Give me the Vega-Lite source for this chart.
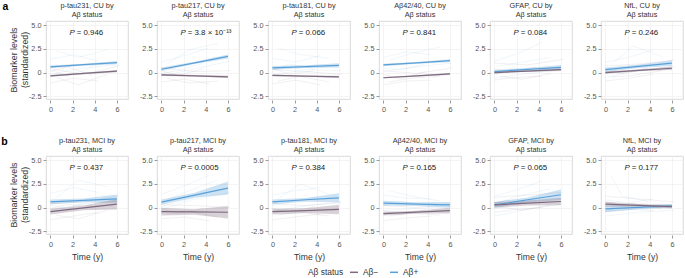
{
"$schema":"https://vega.github.io/schema/vega-lite/v6.json",
"padding":{"left":1,"top":1,"right":1,"bottom":1},
"config":{"font":"Liberation Sans","view":{"stroke":"#d0d0d0","strokeWidth":0.8},
"axis":{"domain":false,"gridColor":"#ececec","gridWidth":0.6,"tickColor":"#9a9a9a","tickSize":3,"labelFontSize":7.3,"labelColor":"#555555","labelPadding":2,"titleFontSize":8.6,"titleFontWeight":"normal","titleColor":"#333333","titlePadding":5},
"header":{"labelFontSize":7.3,"labelColor":"#333333","labelLineHeight":9},
"legend":{"labelFontSize":8.4,"titleFontSize":8.4,"titleFontWeight":"normal","labelColor":"#333333","titleColor":"#333333","padding":0}},
"datasets":{"d":[
{"k":"p","c":"CU","m":1,"pt":"= 0.946"},
{"k":"p","c":"CU","m":2,"pt":"= 3.8 × 10⁻¹³"},
{"k":"p","c":"CU","m":3,"pt":"= 0.066"},
{"k":"p","c":"CU","m":4,"pt":"= 0.841"},
{"k":"p","c":"CU","m":5,"pt":"= 0.084"},
{"k":"p","c":"CU","m":6,"pt":"= 0.246"},
{"k":"p","c":"MCI","m":1,"pt":"= 0.437"},
{"k":"p","c":"MCI","m":2,"pt":"= 0.0005"},
{"k":"p","c":"MCI","m":3,"pt":"= 0.384"},
{"k":"p","c":"MCI","m":4,"pt":"= 0.165"},
{"k":"p","c":"MCI","m":5,"pt":"= 0.065"},
{"k":"p","c":"MCI","m":6,"pt":"= 0.177"},
{"k":"f","c":"CU","m":1,"g":"Aβ+","t":0,"v":0.6,"lo":0.45,"hi":0.75},
{"k":"f","c":"CU","m":1,"g":"Aβ+","t":3,"v":0.83,"lo":0.73,"hi":0.93},
{"k":"f","c":"CU","m":1,"g":"Aβ+","t":6,"v":1.05,"lo":0.87,"hi":1.23},
{"k":"f","c":"CU","m":1,"g":"Aβ−","t":0,"v":-0.35,"lo":-0.45,"hi":-0.25},
{"k":"f","c":"CU","m":1,"g":"Aβ−","t":3,"v":-0.1,"lo":-0.17,"hi":-0.03},
{"k":"f","c":"CU","m":1,"g":"Aβ−","t":6,"v":0.15,"lo":0.03,"hi":0.27},
{"k":"f","c":"CU","m":2,"g":"Aβ+","t":0,"v":0.35,"lo":0.17,"hi":0.53},
{"k":"f","c":"CU","m":2,"g":"Aβ+","t":3,"v":1.03,"lo":0.91,"hi":1.15},
{"k":"f","c":"CU","m":2,"g":"Aβ+","t":6,"v":1.7,"lo":1.48,"hi":1.92},
{"k":"f","c":"CU","m":2,"g":"Aβ−","t":0,"v":-0.25,"lo":-0.37,"hi":-0.13},
{"k":"f","c":"CU","m":2,"g":"Aβ−","t":3,"v":-0.35,"lo":-0.43,"hi":-0.27},
{"k":"f","c":"CU","m":2,"g":"Aβ−","t":6,"v":-0.45,"lo":-0.59,"hi":-0.31},
{"k":"f","c":"CU","m":3,"g":"Aβ+","t":0,"v":0.5,"lo":0.3,"hi":0.7},
{"k":"f","c":"CU","m":3,"g":"Aβ+","t":3,"v":0.63,"lo":0.49,"hi":0.77},
{"k":"f","c":"CU","m":3,"g":"Aβ+","t":6,"v":0.75,"lo":0.53,"hi":0.97},
{"k":"f","c":"CU","m":3,"g":"Aβ−","t":0,"v":-0.3,"lo":-0.4,"hi":-0.2},
{"k":"f","c":"CU","m":3,"g":"Aβ−","t":3,"v":-0.38,"lo":-0.45,"hi":-0.31},
{"k":"f","c":"CU","m":3,"g":"Aβ−","t":6,"v":-0.45,"lo":-0.57,"hi":-0.33},
{"k":"f","c":"CU","m":4,"g":"Aβ+","t":0,"v":0.8,"lo":0.67,"hi":0.93},
{"k":"f","c":"CU","m":4,"g":"Aβ+","t":3,"v":1.03,"lo":0.94,"hi":1.12},
{"k":"f","c":"CU","m":4,"g":"Aβ+","t":6,"v":1.25,"lo":1.1,"hi":1.4},
{"k":"f","c":"CU","m":4,"g":"Aβ−","t":0,"v":-0.55,"lo":-0.64,"hi":-0.46},
{"k":"f","c":"CU","m":4,"g":"Aβ−","t":3,"v":-0.35,"lo":-0.41,"hi":-0.29},
{"k":"f","c":"CU","m":4,"g":"Aβ−","t":6,"v":-0.15,"lo":-0.25,"hi":-0.05},
{"k":"f","c":"CU","m":5,"g":"Aβ+","t":0,"v":0.1,"lo":-0.1,"hi":0.3},
{"k":"f","c":"CU","m":5,"g":"Aβ+","t":3,"v":0.33,"lo":0.19,"hi":0.47},
{"k":"f","c":"CU","m":5,"g":"Aβ+","t":6,"v":0.55,"lo":0.3,"hi":0.8},
{"k":"f","c":"CU","m":5,"g":"Aβ−","t":0,"v":0.0,"lo":-0.1,"hi":0.1},
{"k":"f","c":"CU","m":5,"g":"Aβ−","t":3,"v":0.15,"lo":0.07,"hi":0.23},
{"k":"f","c":"CU","m":5,"g":"Aβ−","t":6,"v":0.3,"lo":0.16,"hi":0.44},
{"k":"f","c":"CU","m":6,"g":"Aβ+","t":0,"v":0.3,"lo":0.08,"hi":0.52},
{"k":"f","c":"CU","m":6,"g":"Aβ+","t":3,"v":0.65,"lo":0.49,"hi":0.81},
{"k":"f","c":"CU","m":6,"g":"Aβ+","t":6,"v":1.0,"lo":0.7,"hi":1.3},
{"k":"f","c":"CU","m":6,"g":"Aβ−","t":0,"v":0.0,"lo":-0.14,"hi":0.14},
{"k":"f","c":"CU","m":6,"g":"Aβ−","t":3,"v":0.23,"lo":0.13,"hi":0.33},
{"k":"f","c":"CU","m":6,"g":"Aβ−","t":6,"v":0.45,"lo":0.27,"hi":0.63},
{"k":"f","c":"MCI","m":1,"g":"Aβ+","t":0,"v":0.6,"lo":0.35,"hi":0.85},
{"k":"f","c":"MCI","m":1,"g":"Aβ+","t":3,"v":0.76,"lo":0.56,"hi":0.96},
{"k":"f","c":"MCI","m":1,"g":"Aβ+","t":6,"v":0.92,"lo":0.47,"hi":1.37},
{"k":"f","c":"MCI","m":1,"g":"Aβ−","t":0,"v":-0.43,"lo":-0.73,"hi":-0.13},
{"k":"f","c":"MCI","m":1,"g":"Aβ−","t":3,"v":-0.04,"lo":-0.29,"hi":0.21},
{"k":"f","c":"MCI","m":1,"g":"Aβ−","t":6,"v":0.35,"lo":-0.2,"hi":0.9},
{"k":"f","c":"MCI","m":2,"g":"Aβ+","t":0,"v":0.57,"lo":0.3,"hi":0.84},
{"k":"f","c":"MCI","m":2,"g":"Aβ+","t":3,"v":1.32,"lo":1.07,"hi":1.57},
{"k":"f","c":"MCI","m":2,"g":"Aβ+","t":6,"v":2.06,"lo":1.36,"hi":2.76},
{"k":"f","c":"MCI","m":2,"g":"Aβ−","t":0,"v":-0.43,"lo":-0.83,"hi":-0.03},
{"k":"f","c":"MCI","m":2,"g":"Aβ−","t":3,"v":-0.47,"lo":-0.77,"hi":-0.17},
{"k":"f","c":"MCI","m":2,"g":"Aβ−","t":6,"v":-0.5,"lo":-1.15,"hi":0.15},
{"k":"f","c":"MCI","m":3,"g":"Aβ+","t":0,"v":0.6,"lo":0.35,"hi":0.85},
{"k":"f","c":"MCI","m":3,"g":"Aβ+","t":3,"v":0.82,"lo":0.62,"hi":1.02},
{"k":"f","c":"MCI","m":3,"g":"Aβ+","t":6,"v":1.03,"lo":0.55,"hi":1.51},
{"k":"f","c":"MCI","m":3,"g":"Aβ−","t":0,"v":-0.43,"lo":-0.73,"hi":-0.13},
{"k":"f","c":"MCI","m":3,"g":"Aβ−","t":3,"v":-0.32,"lo":-0.57,"hi":-0.07},
{"k":"f","c":"MCI","m":3,"g":"Aβ−","t":6,"v":-0.2,"lo":-0.7,"hi":0.3},
{"k":"f","c":"MCI","m":4,"g":"Aβ+","t":0,"v":0.46,"lo":0.21,"hi":0.71},
{"k":"f","c":"MCI","m":4,"g":"Aβ+","t":3,"v":0.37,"lo":0.17,"hi":0.57},
{"k":"f","c":"MCI","m":4,"g":"Aβ+","t":6,"v":0.28,"lo":-0.02,"hi":0.58},
{"k":"f","c":"MCI","m":4,"g":"Aβ−","t":0,"v":-0.64,"lo":-0.84,"hi":-0.44},
{"k":"f","c":"MCI","m":4,"g":"Aβ−","t":3,"v":-0.48,"lo":-0.63,"hi":-0.33},
{"k":"f","c":"MCI","m":4,"g":"Aβ−","t":6,"v":-0.32,"lo":-0.62,"hi":-0.02},
{"k":"f","c":"MCI","m":5,"g":"Aβ+","t":0,"v":0.28,"lo":-0.02,"hi":0.58},
{"k":"f","c":"MCI","m":5,"g":"Aβ+","t":3,"v":0.82,"lo":0.57,"hi":1.07},
{"k":"f","c":"MCI","m":5,"g":"Aβ+","t":6,"v":1.35,"lo":0.8,"hi":1.9},
{"k":"f","c":"MCI","m":5,"g":"Aβ−","t":0,"v":0.28,"lo":-0.02,"hi":0.58},
{"k":"f","c":"MCI","m":5,"g":"Aβ−","t":3,"v":0.46,"lo":0.21,"hi":0.71},
{"k":"f","c":"MCI","m":5,"g":"Aβ−","t":6,"v":0.64,"lo":0.24,"hi":1.04},
{"k":"f","c":"MCI","m":6,"g":"Aβ+","t":0,"v":-0.14,"lo":-0.49,"hi":0.21},
{"k":"f","c":"MCI","m":6,"g":"Aβ+","t":3,"v":0.02,"lo":-0.18,"hi":0.22},
{"k":"f","c":"MCI","m":6,"g":"Aβ+","t":6,"v":0.18,"lo":-0.02,"hi":0.38},
{"k":"f","c":"MCI","m":6,"g":"Aβ−","t":0,"v":0.35,"lo":0.1,"hi":0.6},
{"k":"f","c":"MCI","m":6,"g":"Aβ−","t":3,"v":0.23,"lo":0.08,"hi":0.38},
{"k":"f","c":"MCI","m":6,"g":"Aβ−","t":6,"v":0.1,"lo":-0.1,"hi":0.3},
{"k":"s","c":"CU","m":1,"g":"Aβ+","i":11,"t":0,"v":1.4},{"k":"s","c":"CU","m":1,"g":"Aβ+","i":11,"t":2.1,"v":1.9},{"k":"s","c":"CU","m":1,"g":"Aβ+","i":11,"t":4.3,"v":1.2},
{"k":"s","c":"CU","m":1,"g":"Aβ+","i":12,"t":0,"v":-0.2},{"k":"s","c":"CU","m":1,"g":"Aβ+","i":12,"t":3,"v":0.5},{"k":"s","c":"CU","m":1,"g":"Aβ+","i":12,"t":6.2,"v":0.8},
{"k":"s","c":"CU","m":1,"g":"Aβ+","i":13,"t":0.5,"v":2.3},{"k":"s","c":"CU","m":1,"g":"Aβ+","i":13,"t":2.5,"v":1.6},{"k":"s","c":"CU","m":1,"g":"Aβ+","i":13,"t":5.1,"v":2.4},
{"k":"s","c":"CU","m":1,"g":"Aβ+","i":14,"t":0,"v":0.3},{"k":"s","c":"CU","m":1,"g":"Aβ+","i":14,"t":1.5,"v":-0.4},{"k":"s","c":"CU","m":1,"g":"Aβ+","i":14,"t":3.8,"v":0.6},
{"k":"s","c":"CU","m":1,"g":"Aβ−","i":15,"t":0,"v":-1.1},{"k":"s","c":"CU","m":1,"g":"Aβ−","i":15,"t":2.1,"v":-0.6},{"k":"s","c":"CU","m":1,"g":"Aβ−","i":15,"t":4.3,"v":-0.9},
{"k":"s","c":"CU","m":1,"g":"Aβ−","i":16,"t":0,"v":0.4},{"k":"s","c":"CU","m":1,"g":"Aβ−","i":16,"t":3,"v":-0.2},{"k":"s","c":"CU","m":1,"g":"Aβ−","i":16,"t":6.2,"v":0.7},
{"k":"s","c":"CU","m":1,"g":"Aβ−","i":17,"t":0.5,"v":-0.5},{"k":"s","c":"CU","m":1,"g":"Aβ−","i":17,"t":2.5,"v":-1.3},{"k":"s","c":"CU","m":1,"g":"Aβ−","i":17,"t":5.1,"v":-0.2},
{"k":"s","c":"CU","m":1,"g":"Aβ−","i":18,"t":0,"v":0.1},{"k":"s","c":"CU","m":1,"g":"Aβ−","i":18,"t":1.5,"v":0.6},{"k":"s","c":"CU","m":1,"g":"Aβ−","i":18,"t":3.8,"v":-0.3},
{"k":"s","c":"CU","m":2,"g":"Aβ+","i":21,"t":0,"v":1.1},{"k":"s","c":"CU","m":2,"g":"Aβ+","i":21,"t":2.1,"v":1.8},{"k":"s","c":"CU","m":2,"g":"Aβ+","i":21,"t":4.3,"v":2.6},
{"k":"s","c":"CU","m":2,"g":"Aβ+","i":22,"t":0,"v":-0.4},{"k":"s","c":"CU","m":2,"g":"Aβ+","i":22,"t":3,"v":0.4},{"k":"s","c":"CU","m":2,"g":"Aβ+","i":22,"t":6.2,"v":1.2},
{"k":"s","c":"CU","m":2,"g":"Aβ+","i":23,"t":0.5,"v":0.9},{"k":"s","c":"CU","m":2,"g":"Aβ+","i":23,"t":2.5,"v":2.4},{"k":"s","c":"CU","m":2,"g":"Aβ+","i":23,"t":5.1,"v":3.1},
{"k":"s","c":"CU","m":2,"g":"Aβ+","i":24,"t":0,"v":-0.1},{"k":"s","c":"CU","m":2,"g":"Aβ+","i":24,"t":1.5,"v":0.2},{"k":"s","c":"CU","m":2,"g":"Aβ+","i":24,"t":3.8,"v":1.0},
{"k":"s","c":"CU","m":2,"g":"Aβ−","i":25,"t":0,"v":-1.0},{"k":"s","c":"CU","m":2,"g":"Aβ−","i":25,"t":2.1,"v":-0.7},{"k":"s","c":"CU","m":2,"g":"Aβ−","i":25,"t":4.3,"v":-1.2},
{"k":"s","c":"CU","m":2,"g":"Aβ−","i":26,"t":0,"v":0.5},{"k":"s","c":"CU","m":2,"g":"Aβ−","i":26,"t":3,"v":0.1},{"k":"s","c":"CU","m":2,"g":"Aβ−","i":26,"t":6.2,"v":0.2},
{"k":"s","c":"CU","m":2,"g":"Aβ−","i":27,"t":0.5,"v":-0.6},{"k":"s","c":"CU","m":2,"g":"Aβ−","i":27,"t":2.5,"v":-1.1},{"k":"s","c":"CU","m":2,"g":"Aβ−","i":27,"t":5.1,"v":-0.9},
{"k":"s","c":"CU","m":2,"g":"Aβ−","i":28,"t":0,"v":0.2},{"k":"s","c":"CU","m":2,"g":"Aβ−","i":28,"t":1.5,"v":-0.3},{"k":"s","c":"CU","m":2,"g":"Aβ−","i":28,"t":3.8,"v":0.4},
{"k":"s","c":"CU","m":3,"g":"Aβ+","i":31,"t":0,"v":1.5},{"k":"s","c":"CU","m":3,"g":"Aβ+","i":31,"t":2.1,"v":1.1},{"k":"s","c":"CU","m":3,"g":"Aβ+","i":31,"t":4.3,"v":1.8},
{"k":"s","c":"CU","m":3,"g":"Aβ+","i":32,"t":0,"v":-0.3},{"k":"s","c":"CU","m":3,"g":"Aβ+","i":32,"t":3,"v":0.3},{"k":"s","c":"CU","m":3,"g":"Aβ+","i":32,"t":6.2,"v":0.2},
{"k":"s","c":"CU","m":3,"g":"Aβ+","i":33,"t":0.5,"v":2.6},{"k":"s","c":"CU","m":3,"g":"Aβ+","i":33,"t":2.5,"v":1.9},{"k":"s","c":"CU","m":3,"g":"Aβ+","i":33,"t":5.1,"v":1.5},
{"k":"s","c":"CU","m":3,"g":"Aβ+","i":34,"t":0,"v":0.2},{"k":"s","c":"CU","m":3,"g":"Aβ+","i":34,"t":1.5,"v":0.9},{"k":"s","c":"CU","m":3,"g":"Aβ+","i":34,"t":3.8,"v":0.4},
{"k":"s","c":"CU","m":3,"g":"Aβ−","i":35,"t":0,"v":-1.2},{"k":"s","c":"CU","m":3,"g":"Aβ−","i":35,"t":2.1,"v":-0.8},{"k":"s","c":"CU","m":3,"g":"Aβ−","i":35,"t":4.3,"v":-1.3},
{"k":"s","c":"CU","m":3,"g":"Aβ−","i":36,"t":0,"v":0.3},{"k":"s","c":"CU","m":3,"g":"Aβ−","i":36,"t":3,"v":0.1},{"k":"s","c":"CU","m":3,"g":"Aβ−","i":36,"t":6.2,"v":-0.2},
{"k":"s","c":"CU","m":3,"g":"Aβ−","i":37,"t":0.5,"v":-0.9},{"k":"s","c":"CU","m":3,"g":"Aβ−","i":37,"t":2.5,"v":-0.4},{"k":"s","c":"CU","m":3,"g":"Aβ−","i":37,"t":5.1,"v":-1.0},
{"k":"s","c":"CU","m":3,"g":"Aβ−","i":38,"t":0,"v":0.5},{"k":"s","c":"CU","m":3,"g":"Aβ−","i":38,"t":1.5,"v":-0.2},{"k":"s","c":"CU","m":3,"g":"Aβ−","i":38,"t":3.8,"v":0.2},
{"k":"s","c":"CU","m":4,"g":"Aβ+","i":41,"t":0,"v":1.6},{"k":"s","c":"CU","m":4,"g":"Aβ+","i":41,"t":2.1,"v":2.2},{"k":"s","c":"CU","m":4,"g":"Aβ+","i":41,"t":4.3,"v":1.9},
{"k":"s","c":"CU","m":4,"g":"Aβ+","i":42,"t":0,"v":0.1},{"k":"s","c":"CU","m":4,"g":"Aβ+","i":42,"t":3,"v":0.6},{"k":"s","c":"CU","m":4,"g":"Aβ+","i":42,"t":6.2,"v":1.0},
{"k":"s","c":"CU","m":4,"g":"Aβ+","i":43,"t":0.5,"v":1.3},{"k":"s","c":"CU","m":4,"g":"Aβ+","i":43,"t":2.5,"v":2.0},{"k":"s","c":"CU","m":4,"g":"Aβ+","i":43,"t":5.1,"v":2.7},
{"k":"s","c":"CU","m":4,"g":"Aβ+","i":44,"t":0,"v":0.5},{"k":"s","c":"CU","m":4,"g":"Aβ+","i":44,"t":1.5,"v":0.3},{"k":"s","c":"CU","m":4,"g":"Aβ+","i":44,"t":3.8,"v":0.9},
{"k":"s","c":"CU","m":4,"g":"Aβ−","i":45,"t":0,"v":-1.3},{"k":"s","c":"CU","m":4,"g":"Aβ−","i":45,"t":2.1,"v":-0.9},{"k":"s","c":"CU","m":4,"g":"Aβ−","i":45,"t":4.3,"v":-0.8},
{"k":"s","c":"CU","m":4,"g":"Aβ−","i":46,"t":0,"v":0.2},{"k":"s","c":"CU","m":4,"g":"Aβ−","i":46,"t":3,"v":-0.1},{"k":"s","c":"CU","m":4,"g":"Aβ−","i":46,"t":6.2,"v":0.5},
{"k":"s","c":"CU","m":4,"g":"Aβ−","i":47,"t":0.5,"v":-1.0},{"k":"s","c":"CU","m":4,"g":"Aβ−","i":47,"t":2.5,"v":-0.6},{"k":"s","c":"CU","m":4,"g":"Aβ−","i":47,"t":5.1,"v":-0.4},
{"k":"s","c":"CU","m":4,"g":"Aβ−","i":48,"t":0,"v":-0.2},{"k":"s","c":"CU","m":4,"g":"Aβ−","i":48,"t":1.5,"v":-0.7},{"k":"s","c":"CU","m":4,"g":"Aβ−","i":48,"t":3.8,"v":0.1},
{"k":"s","c":"CU","m":5,"g":"Aβ+","i":51,"t":0,"v":1.2},{"k":"s","c":"CU","m":5,"g":"Aβ+","i":51,"t":2.1,"v":2.0},{"k":"s","c":"CU","m":5,"g":"Aβ+","i":51,"t":4.3,"v":3.2},
{"k":"s","c":"CU","m":5,"g":"Aβ+","i":52,"t":0,"v":-0.6},{"k":"s","c":"CU","m":5,"g":"Aβ+","i":52,"t":3,"v":-0.1},{"k":"s","c":"CU","m":5,"g":"Aβ+","i":52,"t":6.2,"v":0.3},
{"k":"s","c":"CU","m":5,"g":"Aβ+","i":53,"t":0.5,"v":0.7},{"k":"s","c":"CU","m":5,"g":"Aβ+","i":53,"t":2.5,"v":1.1},{"k":"s","c":"CU","m":5,"g":"Aβ+","i":53,"t":5.1,"v":1.6},
{"k":"s","c":"CU","m":5,"g":"Aβ+","i":54,"t":0,"v":-0.3},{"k":"s","c":"CU","m":5,"g":"Aβ+","i":54,"t":1.5,"v":0.4},{"k":"s","c":"CU","m":5,"g":"Aβ+","i":54,"t":3.8,"v":0.1},
{"k":"s","c":"CU","m":5,"g":"Aβ−","i":55,"t":0,"v":-0.8},{"k":"s","c":"CU","m":5,"g":"Aβ−","i":55,"t":2.1,"v":-0.5},{"k":"s","c":"CU","m":5,"g":"Aβ−","i":55,"t":4.3,"v":-0.4},
{"k":"s","c":"CU","m":5,"g":"Aβ−","i":56,"t":0,"v":1.0},{"k":"s","c":"CU","m":5,"g":"Aβ−","i":56,"t":3,"v":0.8},{"k":"s","c":"CU","m":5,"g":"Aβ−","i":56,"t":6.2,"v":1.4},
{"k":"s","c":"CU","m":5,"g":"Aβ−","i":57,"t":0.5,"v":-0.4},{"k":"s","c":"CU","m":5,"g":"Aβ−","i":57,"t":2.5,"v":-0.7},{"k":"s","c":"CU","m":5,"g":"Aβ−","i":57,"t":5.1,"v":-0.1},
{"k":"s","c":"CU","m":5,"g":"Aβ−","i":58,"t":0,"v":0.3},{"k":"s","c":"CU","m":5,"g":"Aβ−","i":58,"t":1.5,"v":0.1},{"k":"s","c":"CU","m":5,"g":"Aβ−","i":58,"t":3.8,"v":0.6},
{"k":"s","c":"CU","m":6,"g":"Aβ+","i":61,"t":0,"v":1.1},{"k":"s","c":"CU","m":6,"g":"Aβ+","i":61,"t":2.1,"v":1.6},{"k":"s","c":"CU","m":6,"g":"Aβ+","i":61,"t":4.3,"v":2.4},
{"k":"s","c":"CU","m":6,"g":"Aβ+","i":62,"t":0,"v":-0.5},{"k":"s","c":"CU","m":6,"g":"Aβ+","i":62,"t":3,"v":0.2},{"k":"s","c":"CU","m":6,"g":"Aβ+","i":62,"t":6.2,"v":0.6},
{"k":"s","c":"CU","m":6,"g":"Aβ+","i":63,"t":0.5,"v":0.8},{"k":"s","c":"CU","m":6,"g":"Aβ+","i":63,"t":2.5,"v":2.8},{"k":"s","c":"CU","m":6,"g":"Aβ+","i":63,"t":5.1,"v":1.7},
{"k":"s","c":"CU","m":6,"g":"Aβ+","i":64,"t":0,"v":-0.1},{"k":"s","c":"CU","m":6,"g":"Aβ+","i":64,"t":1.5,"v":0.5},{"k":"s","c":"CU","m":6,"g":"Aβ+","i":64,"t":3.8,"v":0.9},
{"k":"s","c":"CU","m":6,"g":"Aβ−","i":65,"t":0,"v":-0.9},{"k":"s","c":"CU","m":6,"g":"Aβ−","i":65,"t":2.1,"v":-0.6},{"k":"s","c":"CU","m":6,"g":"Aβ−","i":65,"t":4.3,"v":-0.2},
{"k":"s","c":"CU","m":6,"g":"Aβ−","i":66,"t":0,"v":0.7},{"k":"s","c":"CU","m":6,"g":"Aβ−","i":66,"t":3,"v":0.9},{"k":"s","c":"CU","m":6,"g":"Aβ−","i":66,"t":6.2,"v":1.3},
{"k":"s","c":"CU","m":6,"g":"Aβ−","i":67,"t":0.5,"v":-0.5},{"k":"s","c":"CU","m":6,"g":"Aβ−","i":67,"t":2.5,"v":-0.3},{"k":"s","c":"CU","m":6,"g":"Aβ−","i":67,"t":5.1,"v":0.2},
{"k":"s","c":"CU","m":6,"g":"Aβ−","i":68,"t":0,"v":0.2},{"k":"s","c":"CU","m":6,"g":"Aβ−","i":68,"t":1.5,"v":-0.1},{"k":"s","c":"CU","m":6,"g":"Aβ−","i":68,"t":3.8,"v":0.5},
{"k":"s","c":"MCI","m":1,"g":"Aβ+","i":71,"t":0,"v":1.5},{"k":"s","c":"MCI","m":1,"g":"Aβ+","i":71,"t":2.1,"v":2.1},{"k":"s","c":"MCI","m":1,"g":"Aβ+","i":71,"t":4.3,"v":1.6},
{"k":"s","c":"MCI","m":1,"g":"Aβ+","i":72,"t":0,"v":-0.3},{"k":"s","c":"MCI","m":1,"g":"Aβ+","i":72,"t":3,"v":0.4},{"k":"s","c":"MCI","m":1,"g":"Aβ+","i":72,"t":6.2,"v":0.7},
{"k":"s","c":"MCI","m":1,"g":"Aβ+","i":73,"t":0.5,"v":1.0},{"k":"s","c":"MCI","m":1,"g":"Aβ+","i":73,"t":2.5,"v":2.9},{"k":"s","c":"MCI","m":1,"g":"Aβ+","i":73,"t":5.1,"v":2.2},
{"k":"s","c":"MCI","m":1,"g":"Aβ+","i":74,"t":0,"v":0.3},{"k":"s","c":"MCI","m":1,"g":"Aβ+","i":74,"t":1.5,"v":-0.2},{"k":"s","c":"MCI","m":1,"g":"Aβ+","i":74,"t":3.8,"v":0.8},
{"k":"s","c":"MCI","m":1,"g":"Aβ−","i":75,"t":0,"v":-1.3},{"k":"s","c":"MCI","m":1,"g":"Aβ−","i":75,"t":2.1,"v":-0.9},{"k":"s","c":"MCI","m":1,"g":"Aβ−","i":75,"t":4.3,"v":-0.5},
{"k":"s","c":"MCI","m":1,"g":"Aβ−","i":76,"t":0,"v":0.4},{"k":"s","c":"MCI","m":1,"g":"Aβ−","i":76,"t":3,"v":0.6},{"k":"s","c":"MCI","m":1,"g":"Aβ−","i":76,"t":6.2,"v":1.2},
{"k":"s","c":"MCI","m":1,"g":"Aβ−","i":77,"t":0.5,"v":-0.8},{"k":"s","c":"MCI","m":1,"g":"Aβ−","i":77,"t":2.5,"v":-1.2},{"k":"s","c":"MCI","m":1,"g":"Aβ−","i":77,"t":5.1,"v":-0.3},
{"k":"s","c":"MCI","m":1,"g":"Aβ−","i":78,"t":0,"v":-0.1},{"k":"s","c":"MCI","m":1,"g":"Aβ−","i":78,"t":1.5,"v":0.3},{"k":"s","c":"MCI","m":1,"g":"Aβ−","i":78,"t":3.8,"v":0.2},
{"k":"s","c":"MCI","m":2,"g":"Aβ+","i":81,"t":0,"v":1.4},{"k":"s","c":"MCI","m":2,"g":"Aβ+","i":81,"t":2.1,"v":2.3},{"k":"s","c":"MCI","m":2,"g":"Aβ+","i":81,"t":4.3,"v":3.4},
{"k":"s","c":"MCI","m":2,"g":"Aβ+","i":82,"t":0,"v":-0.2},{"k":"s","c":"MCI","m":2,"g":"Aβ+","i":82,"t":3,"v":0.9},{"k":"s","c":"MCI","m":2,"g":"Aβ+","i":82,"t":6.2,"v":1.6},
{"k":"s","c":"MCI","m":2,"g":"Aβ+","i":83,"t":0.5,"v":0.8},{"k":"s","c":"MCI","m":2,"g":"Aβ+","i":83,"t":2.5,"v":1.8},{"k":"s","c":"MCI","m":2,"g":"Aβ+","i":83,"t":5.1,"v":2.9},
{"k":"s","c":"MCI","m":2,"g":"Aβ+","i":84,"t":0,"v":0.1},{"k":"s","c":"MCI","m":2,"g":"Aβ+","i":84,"t":1.5,"v":0.6},{"k":"s","c":"MCI","m":2,"g":"Aβ+","i":84,"t":3.8,"v":1.3},
{"k":"s","c":"MCI","m":2,"g":"Aβ−","i":85,"t":0,"v":-1.2},{"k":"s","c":"MCI","m":2,"g":"Aβ−","i":85,"t":2.1,"v":-1.0},{"k":"s","c":"MCI","m":2,"g":"Aβ−","i":85,"t":4.3,"v":-1.4},
{"k":"s","c":"MCI","m":2,"g":"Aβ−","i":86,"t":0,"v":0.3},{"k":"s","c":"MCI","m":2,"g":"Aβ−","i":86,"t":3,"v":0.2},{"k":"s","c":"MCI","m":2,"g":"Aβ−","i":86,"t":6.2,"v":0.0},
{"k":"s","c":"MCI","m":2,"g":"Aβ−","i":87,"t":0.5,"v":-0.7},{"k":"s","c":"MCI","m":2,"g":"Aβ−","i":87,"t":2.5,"v":-0.4},{"k":"s","c":"MCI","m":2,"g":"Aβ−","i":87,"t":5.1,"v":-1.0},
{"k":"s","c":"MCI","m":2,"g":"Aβ−","i":88,"t":0,"v":-0.2},{"k":"s","c":"MCI","m":2,"g":"Aβ−","i":88,"t":1.5,"v":-0.6},{"k":"s","c":"MCI","m":2,"g":"Aβ−","i":88,"t":3.8,"v":-0.1},
{"k":"s","c":"MCI","m":3,"g":"Aβ+","i":91,"t":0,"v":1.3},{"k":"s","c":"MCI","m":3,"g":"Aβ+","i":91,"t":2.1,"v":1.8},{"k":"s","c":"MCI","m":3,"g":"Aβ+","i":91,"t":4.3,"v":2.1},
{"k":"s","c":"MCI","m":3,"g":"Aβ+","i":92,"t":0,"v":-0.4},{"k":"s","c":"MCI","m":3,"g":"Aβ+","i":92,"t":3,"v":0.2},{"k":"s","c":"MCI","m":3,"g":"Aβ+","i":92,"t":6.2,"v":0.5},
{"k":"s","c":"MCI","m":3,"g":"Aβ+","i":93,"t":0.5,"v":0.9},{"k":"s","c":"MCI","m":3,"g":"Aβ+","i":93,"t":2.5,"v":2.5},{"k":"s","c":"MCI","m":3,"g":"Aβ+","i":93,"t":5.1,"v":1.4},
{"k":"s","c":"MCI","m":3,"g":"Aβ+","i":94,"t":0,"v":0.2},{"k":"s","c":"MCI","m":3,"g":"Aβ+","i":94,"t":1.5,"v":0.6},{"k":"s","c":"MCI","m":3,"g":"Aβ+","i":94,"t":3.8,"v":1.1},
{"k":"s","c":"MCI","m":3,"g":"Aβ−","i":95,"t":0,"v":-1.3},{"k":"s","c":"MCI","m":3,"g":"Aβ−","i":95,"t":2.1,"v":-1.0},{"k":"s","c":"MCI","m":3,"g":"Aβ−","i":95,"t":4.3,"v":-0.7},
{"k":"s","c":"MCI","m":3,"g":"Aβ−","i":96,"t":0,"v":0.4},{"k":"s","c":"MCI","m":3,"g":"Aβ−","i":96,"t":3,"v":0.2},{"k":"s","c":"MCI","m":3,"g":"Aβ−","i":96,"t":6.2,"v":0.6},
{"k":"s","c":"MCI","m":3,"g":"Aβ−","i":97,"t":0.5,"v":-0.8},{"k":"s","c":"MCI","m":3,"g":"Aβ−","i":97,"t":2.5,"v":-0.5},{"k":"s","c":"MCI","m":3,"g":"Aβ−","i":97,"t":5.1,"v":-0.9},
{"k":"s","c":"MCI","m":3,"g":"Aβ−","i":98,"t":0,"v":-0.1},{"k":"s","c":"MCI","m":3,"g":"Aβ−","i":98,"t":1.5,"v":-0.5},{"k":"s","c":"MCI","m":3,"g":"Aβ−","i":98,"t":3.8,"v":0.1},
{"k":"s","c":"MCI","m":4,"g":"Aβ+","i":101,"t":0,"v":1.3},{"k":"s","c":"MCI","m":4,"g":"Aβ+","i":101,"t":2.1,"v":1.0},{"k":"s","c":"MCI","m":4,"g":"Aβ+","i":101,"t":4.3,"v":0.9},
{"k":"s","c":"MCI","m":4,"g":"Aβ+","i":102,"t":0,"v":-0.3},{"k":"s","c":"MCI","m":4,"g":"Aβ+","i":102,"t":3,"v":-0.1},{"k":"s","c":"MCI","m":4,"g":"Aβ+","i":102,"t":6.2,"v":0.1},
{"k":"s","c":"MCI","m":4,"g":"Aβ+","i":103,"t":0.5,"v":1.8},{"k":"s","c":"MCI","m":4,"g":"Aβ+","i":103,"t":2.5,"v":1.2},{"k":"s","c":"MCI","m":4,"g":"Aβ+","i":103,"t":5.1,"v":0.7},
{"k":"s","c":"MCI","m":4,"g":"Aβ+","i":104,"t":0,"v":0.2},{"k":"s","c":"MCI","m":4,"g":"Aβ+","i":104,"t":1.5,"v":0.6},{"k":"s","c":"MCI","m":4,"g":"Aβ+","i":104,"t":3.8,"v":0.3},
{"k":"s","c":"MCI","m":4,"g":"Aβ−","i":105,"t":0,"v":-1.4},{"k":"s","c":"MCI","m":4,"g":"Aβ−","i":105,"t":2.1,"v":-1.1},{"k":"s","c":"MCI","m":4,"g":"Aβ−","i":105,"t":4.3,"v":-0.9},
{"k":"s","c":"MCI","m":4,"g":"Aβ−","i":106,"t":0,"v":0.2},{"k":"s","c":"MCI","m":4,"g":"Aβ−","i":106,"t":3,"v":0.0},{"k":"s","c":"MCI","m":4,"g":"Aβ−","i":106,"t":6.2,"v":0.4},
{"k":"s","c":"MCI","m":4,"g":"Aβ−","i":107,"t":0.5,"v":-0.9},{"k":"s","c":"MCI","m":4,"g":"Aβ−","i":107,"t":2.5,"v":-0.6},{"k":"s","c":"MCI","m":4,"g":"Aβ−","i":107,"t":5.1,"v":-0.8},
{"k":"s","c":"MCI","m":4,"g":"Aβ−","i":108,"t":0,"v":-0.3},{"k":"s","c":"MCI","m":4,"g":"Aβ−","i":108,"t":1.5,"v":-0.8},{"k":"s","c":"MCI","m":4,"g":"Aβ−","i":108,"t":3.8,"v":-0.2},
{"k":"s","c":"MCI","m":5,"g":"Aβ+","i":111,"t":0,"v":1.2},{"k":"s","c":"MCI","m":5,"g":"Aβ+","i":111,"t":2.1,"v":1.9},{"k":"s","c":"MCI","m":5,"g":"Aβ+","i":111,"t":4.3,"v":2.8},
{"k":"s","c":"MCI","m":5,"g":"Aβ+","i":112,"t":0,"v":-0.9},{"k":"s","c":"MCI","m":5,"g":"Aβ+","i":112,"t":3,"v":-0.2},{"k":"s","c":"MCI","m":5,"g":"Aβ+","i":112,"t":6.2,"v":0.4},
{"k":"s","c":"MCI","m":5,"g":"Aβ+","i":113,"t":0.5,"v":0.6},{"k":"s","c":"MCI","m":5,"g":"Aβ+","i":113,"t":2.5,"v":1.3},{"k":"s","c":"MCI","m":5,"g":"Aβ+","i":113,"t":5.1,"v":2.0},
{"k":"s","c":"MCI","m":5,"g":"Aβ+","i":114,"t":0,"v":-0.2},{"k":"s","c":"MCI","m":5,"g":"Aβ+","i":114,"t":1.5,"v":0.4},{"k":"s","c":"MCI","m":5,"g":"Aβ+","i":114,"t":3.8,"v":0.9},
{"k":"s","c":"MCI","m":5,"g":"Aβ−","i":115,"t":0,"v":-0.5},{"k":"s","c":"MCI","m":5,"g":"Aβ−","i":115,"t":2.1,"v":-0.2},{"k":"s","c":"MCI","m":5,"g":"Aβ−","i":115,"t":4.3,"v":0.0},
{"k":"s","c":"MCI","m":5,"g":"Aβ−","i":116,"t":0,"v":1.1},{"k":"s","c":"MCI","m":5,"g":"Aβ−","i":116,"t":3,"v":1.3},{"k":"s","c":"MCI","m":5,"g":"Aβ−","i":116,"t":6.2,"v":1.6},
{"k":"s","c":"MCI","m":5,"g":"Aβ−","i":117,"t":0.5,"v":0.1},{"k":"s","c":"MCI","m":5,"g":"Aβ−","i":117,"t":2.5,"v":-0.3},{"k":"s","c":"MCI","m":5,"g":"Aβ−","i":117,"t":5.1,"v":0.3},
{"k":"s","c":"MCI","m":5,"g":"Aβ−","i":118,"t":0,"v":0.5},{"k":"s","c":"MCI","m":5,"g":"Aβ−","i":118,"t":1.5,"v":0.8},{"k":"s","c":"MCI","m":5,"g":"Aβ−","i":118,"t":3.8,"v":0.7},
{"k":"s","c":"MCI","m":6,"g":"Aβ+","i":121,"t":0,"v":0.8},{"k":"s","c":"MCI","m":6,"g":"Aβ+","i":121,"t":2.1,"v":0.5},{"k":"s","c":"MCI","m":6,"g":"Aβ+","i":121,"t":4.3,"v":0.9},
{"k":"s","c":"MCI","m":6,"g":"Aβ+","i":122,"t":0,"v":-0.9},{"k":"s","c":"MCI","m":6,"g":"Aβ+","i":122,"t":3,"v":-0.5},{"k":"s","c":"MCI","m":6,"g":"Aβ+","i":122,"t":6.2,"v":-0.3},
{"k":"s","c":"MCI","m":6,"g":"Aβ+","i":123,"t":0.5,"v":3.4},{"k":"s","c":"MCI","m":6,"g":"Aβ+","i":123,"t":1.5,"v":1.2},{"k":"s","c":"MCI","m":6,"g":"Aβ+","i":123,"t":4,"v":0.6},
{"k":"s","c":"MCI","m":6,"g":"Aβ+","i":124,"t":0,"v":-0.4},{"k":"s","c":"MCI","m":6,"g":"Aβ+","i":124,"t":1.5,"v":0.1},{"k":"s","c":"MCI","m":6,"g":"Aβ+","i":124,"t":3.8,"v":-0.2},
{"k":"s","c":"MCI","m":6,"g":"Aβ−","i":125,"t":0,"v":-0.4},{"k":"s","c":"MCI","m":6,"g":"Aβ−","i":125,"t":2.1,"v":-0.2},{"k":"s","c":"MCI","m":6,"g":"Aβ−","i":125,"t":4.3,"v":-0.3},
{"k":"s","c":"MCI","m":6,"g":"Aβ−","i":126,"t":0,"v":1.2},{"k":"s","c":"MCI","m":6,"g":"Aβ−","i":126,"t":3,"v":0.9},{"k":"s","c":"MCI","m":6,"g":"Aβ−","i":126,"t":6.2,"v":0.6},
{"k":"s","c":"MCI","m":6,"g":"Aβ−","i":127,"t":0.5,"v":0.1},{"k":"s","c":"MCI","m":6,"g":"Aβ−","i":127,"t":2.5,"v":0.4},{"k":"s","c":"MCI","m":6,"g":"Aβ−","i":127,"t":5.1,"v":-0.1},
{"k":"s","c":"MCI","m":6,"g":"Aβ−","i":128,"t":0,"v":0.6},{"k":"s","c":"MCI","m":6,"g":"Aβ−","i":128,"t":1.5,"v":0.3},{"k":"s","c":"MCI","m":6,"g":"Aβ−","i":128,"t":3.8,"v":0.4}
]},
"vconcat":[
{"data":{"name":"d"},"transform":[{"filter":"datum.c=='CU'"}],
"title":{"text":"a","orient":"left","anchor":"end","angle":0,"baseline":"top","fontSize":10.5,"fontWeight":"bold","offset":-4},
"facet":{"row":{"field":"c","type":"nominal","header":{"title":null,"labelExpr":"['Biomarker levels','(standardized)']","labelAngle":-90,"labelOrient":"left","labelPadding":-6,"labelFontSize":8.8,"labelLineHeight":11}},
"column":{"field":"m","type":"ordinal","header":{"title":null,"labelPadding":2,"labelExpr":"[['p-tau231','p-tau217','p-tau181','Aβ42/40','GFAP','NfL'][datum.value-1] + ', CU by','Aβ status']"}}},
"spacing":{"column":10},
"resolve":{"axis":{"y":"independent"}},
"spec":{"width":82,"height":78,
"layer":[
{"transform":[{"filter":"datum.k=='s'"}],"mark":{"type":"line","strokeWidth":0.5,"opacity":0.2},"encoding":{"x":{"field":"t","type":"quantitative","scale":{"domain":[-0.4,7],"nice":false,"zero":false},"axis":{"values":[0,2,4,6],"title":null}},"y":{"field":"v","type":"quantitative","scale":{"domain":[-2.8,5.45],"nice":false,"zero":false},"axis":{"values":[-2.5,0,2.5,5],"labelExpr":"datum.value==0?'0':replace(format(datum.value,'.1f'),'−','-')","title":null}},"detail":{"field":"i"},"color":{"field":"g","type":"nominal","scale":{"domain":["Aβ−","Aβ+"],"range":["#7d6a7f","#5aa0d8"]},"legend":{"title":"Aβ status","orient":"none","legendX":262,"legendY":246,"direction":"horizontal","titleOrient":"left","symbolType":"stroke","symbolSize":64,"symbolStrokeWidth":1.5,"symbolOpacity":1,"columnPadding":8,"labelOffset":4}}}},
{"transform":[{"filter":"datum.k=='f'"}],"mark":{"type":"area","opacity":0.3},"encoding":{"x":{"field":"t","type":"quantitative","scale":{"domain":[-0.4,7],"nice":false,"zero":false},"axis":{"values":[0,2,4,6],"title":null}},"y":{"field":"lo","type":"quantitative","scale":{"domain":[-2.8,5.45],"nice":false,"zero":false},"axis":{"values":[-2.5,0,2.5,5],"labelExpr":"datum.value==0?'0':replace(format(datum.value,'.1f'),'−','-')","title":null}},"y2":{"field":"hi"},"color":{"field":"g","type":"nominal","scale":{"domain":["Aβ−","Aβ+"],"range":["#7d6a7f","#5aa0d8"]},"legend":{"title":"Aβ status","orient":"none","legendX":262,"legendY":246,"direction":"horizontal","titleOrient":"left","symbolType":"stroke","symbolSize":64,"symbolStrokeWidth":1.5,"symbolOpacity":1,"columnPadding":8,"labelOffset":4}}}},
{"transform":[{"filter":"datum.k=='f'"}],"mark":{"type":"line","strokeWidth":1.2},"encoding":{"x":{"field":"t","type":"quantitative","scale":{"domain":[-0.4,7],"nice":false,"zero":false},"axis":{"values":[0,2,4,6],"title":null}},"y":{"field":"v","type":"quantitative","scale":{"domain":[-2.8,5.45],"nice":false,"zero":false},"axis":{"values":[-2.5,0,2.5,5],"labelExpr":"datum.value==0?'0':replace(format(datum.value,'.1f'),'−','-')","title":null}},"color":{"field":"g","type":"nominal","scale":{"domain":["Aβ−","Aβ+"],"range":["#7d6a7f","#5aa0d8"]},"legend":{"title":"Aβ status","orient":"none","legendX":262,"legendY":246,"direction":"horizontal","titleOrient":"left","symbolType":"stroke","symbolSize":64,"symbolStrokeWidth":1.5,"symbolOpacity":1,"columnPadding":8,"labelOffset":4}}}},
{"transform":[{"filter":"datum.k=='p'"}],"mark":{"type":"text","align":"right","dx":-9,"fontStyle":"italic","fontSize":7.9,"color":"#222222"},"encoding":{"x":{"datum":3,"type":"quantitative","scale":{"domain":[-0.4,7],"nice":false,"zero":false},"axis":{"values":[0,2,4,6],"title":null}},"y":{"datum":4.2,"type":"quantitative","scale":{"domain":[-2.8,5.45],"nice":false,"zero":false},"axis":{"values":[-2.5,0,2.5,5],"labelExpr":"datum.value==0?'0':replace(format(datum.value,'.1f'),'−','-')","title":null}},"text":{"value":"P"}}},
{"transform":[{"filter":"datum.k=='p'"}],"mark":{"type":"text","align":"left","dx":-7,"fontSize":7.9,"color":"#222222"},"encoding":{"x":{"datum":3,"type":"quantitative","scale":{"domain":[-0.4,7],"nice":false,"zero":false},"axis":{"values":[0,2,4,6],"title":null}},"y":{"datum":4.2,"type":"quantitative","scale":{"domain":[-2.8,5.45],"nice":false,"zero":false},"axis":{"values":[-2.5,0,2.5,5],"labelExpr":"datum.value==0?'0':replace(format(datum.value,'.1f'),'−','-')","title":null}},"text":{"field":"pt","type":"nominal"}}}
]}},
{"data":{"name":"d"},"transform":[{"filter":"datum.c=='MCI'"}],
"title":{"text":"b","orient":"left","anchor":"end","angle":0,"baseline":"top","fontSize":10.5,"fontWeight":"bold","offset":-4},
"facet":{"row":{"field":"c","type":"nominal","header":{"title":null,"labelExpr":"['Biomarker levels','(standardized)']","labelAngle":-90,"labelOrient":"left","labelPadding":-6,"labelFontSize":8.8,"labelLineHeight":11}},
"column":{"field":"m","type":"ordinal","header":{"title":null,"labelPadding":2,"labelExpr":"[['p-tau231','p-tau217','p-tau181','Aβ42/40','GFAP','NfL'][datum.value-1] + ', MCI by','Aβ status']"}}},
"spacing":{"column":10},
"resolve":{"axis":{"y":"independent"}},
"spec":{"width":82,"height":78,
"layer":[
{"transform":[{"filter":"datum.k=='s'"}],"mark":{"type":"line","strokeWidth":0.5,"opacity":0.2},"encoding":{"x":{"field":"t","type":"quantitative","scale":{"domain":[-0.4,7],"nice":false,"zero":false},"axis":{"values":[0,2,4,6],"title":"Time (y)"}},"y":{"field":"v","type":"quantitative","scale":{"domain":[-2.8,5.45],"nice":false,"zero":false},"axis":{"values":[-2.5,0,2.5,5],"labelExpr":"datum.value==0?'0':replace(format(datum.value,'.1f'),'−','-')","title":null}},"detail":{"field":"i"},"color":{"field":"g","type":"nominal","scale":{"domain":["Aβ−","Aβ+"],"range":["#7d6a7f","#5aa0d8"]},"legend":{"title":"Aβ status","orient":"none","legendX":262,"legendY":246,"direction":"horizontal","titleOrient":"left","symbolType":"stroke","symbolSize":64,"symbolStrokeWidth":1.5,"symbolOpacity":1,"columnPadding":8,"labelOffset":4}}}},
{"transform":[{"filter":"datum.k=='f'"}],"mark":{"type":"area","opacity":0.3},"encoding":{"x":{"field":"t","type":"quantitative","scale":{"domain":[-0.4,7],"nice":false,"zero":false},"axis":{"values":[0,2,4,6],"title":"Time (y)"}},"y":{"field":"lo","type":"quantitative","scale":{"domain":[-2.8,5.45],"nice":false,"zero":false},"axis":{"values":[-2.5,0,2.5,5],"labelExpr":"datum.value==0?'0':replace(format(datum.value,'.1f'),'−','-')","title":null}},"y2":{"field":"hi"},"color":{"field":"g","type":"nominal","scale":{"domain":["Aβ−","Aβ+"],"range":["#7d6a7f","#5aa0d8"]},"legend":{"title":"Aβ status","orient":"none","legendX":262,"legendY":246,"direction":"horizontal","titleOrient":"left","symbolType":"stroke","symbolSize":64,"symbolStrokeWidth":1.5,"symbolOpacity":1,"columnPadding":8,"labelOffset":4}}}},
{"transform":[{"filter":"datum.k=='f'"}],"mark":{"type":"line","strokeWidth":1.2},"encoding":{"x":{"field":"t","type":"quantitative","scale":{"domain":[-0.4,7],"nice":false,"zero":false},"axis":{"values":[0,2,4,6],"title":"Time (y)"}},"y":{"field":"v","type":"quantitative","scale":{"domain":[-2.8,5.45],"nice":false,"zero":false},"axis":{"values":[-2.5,0,2.5,5],"labelExpr":"datum.value==0?'0':replace(format(datum.value,'.1f'),'−','-')","title":null}},"color":{"field":"g","type":"nominal","scale":{"domain":["Aβ−","Aβ+"],"range":["#7d6a7f","#5aa0d8"]},"legend":{"title":"Aβ status","orient":"none","legendX":262,"legendY":246,"direction":"horizontal","titleOrient":"left","symbolType":"stroke","symbolSize":64,"symbolStrokeWidth":1.5,"symbolOpacity":1,"columnPadding":8,"labelOffset":4}}}},
{"transform":[{"filter":"datum.k=='p'"}],"mark":{"type":"text","align":"right","dx":-9,"fontStyle":"italic","fontSize":7.9,"color":"#222222"},"encoding":{"x":{"datum":3,"type":"quantitative","scale":{"domain":[-0.4,7],"nice":false,"zero":false},"axis":{"values":[0,2,4,6],"title":"Time (y)"}},"y":{"datum":4.2,"type":"quantitative","scale":{"domain":[-2.8,5.45],"nice":false,"zero":false},"axis":{"values":[-2.5,0,2.5,5],"labelExpr":"datum.value==0?'0':replace(format(datum.value,'.1f'),'−','-')","title":null}},"text":{"value":"P"}}},
{"transform":[{"filter":"datum.k=='p'"}],"mark":{"type":"text","align":"left","dx":-7,"fontSize":7.9,"color":"#222222"},"encoding":{"x":{"datum":3,"type":"quantitative","scale":{"domain":[-0.4,7],"nice":false,"zero":false},"axis":{"values":[0,2,4,6],"title":"Time (y)"}},"y":{"datum":4.2,"type":"quantitative","scale":{"domain":[-2.8,5.45],"nice":false,"zero":false},"axis":{"values":[-2.5,0,2.5,5],"labelExpr":"datum.value==0?'0':replace(format(datum.value,'.1f'),'−','-')","title":null}},"text":{"field":"pt","type":"nominal"}}}
]}}
],
"spacing":23
}
